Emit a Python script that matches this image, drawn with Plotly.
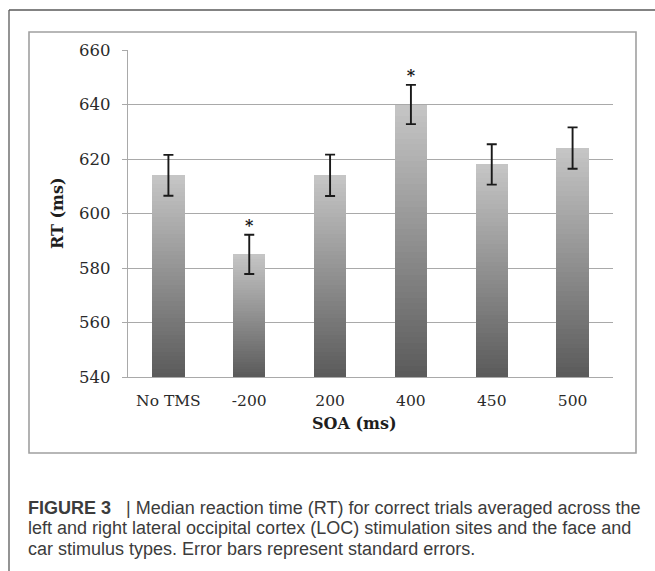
import plotly.graph_objects as go

categories = ["No TMS", "-200", "200", "400", "450", "500"]
rt_values = [614, 585, 614, 640, 618, 624]
rt_se = [7.5, 7.2, 7.6, 7.2, 7.4, 7.6]
significant = [False, True, False, True, False, False]
y_ticks = [540, 560, 580, 600, 620, 640, 660]

caption_lines = [
    "<b>FIGURE 3</b>&nbsp;&nbsp; | Median reaction time (RT) for correct trials averaged across the",
    "left and right lateral occipital cortex (LOC) stimulation sites and the face and",
    "car stimulus types. Error bars represent standard errors.",
]

W, H = 655, 571
L, R, T, B = 128, 42, 50, 194
PW, PH = W - L - R, H - T - B
Y0 = y_ticks[0]

def px(xp):
    return (xp - L) / PW

def py(yp):
    return (H - B - yp) / PH

fig = go.Figure()

# gradient bars built from stacked segments (dark bottom -> light top)
N = 48
dark = (90, 90, 90)
light = (198, 198, 198)
for i in range(N):
    f = (i + 0.5) / N
    c = tuple(int(round(dark[k] + (light[k] - dark[k]) * f)) for k in range(3))
    heights = [(v - Y0) / N for v in rt_values]
    bases = [Y0 + h * i for h in heights]
    ys = [h * (1.0 if i == N - 1 else 1.15) for h in heights]
    fig.add_trace(go.Bar(
        x=categories, y=ys, base=bases, width=0.40,
        marker=dict(color="rgb(%d,%d,%d)" % c, line=dict(width=0)),
        hoverinfo="skip", showlegend=False,
    ))

# error bars
fig.add_trace(go.Scatter(
    x=categories, y=rt_values, mode="markers",
    marker=dict(size=1, color="rgba(0,0,0,0)"),
    error_y=dict(type="data", array=rt_se, visible=True, color="#1a1a1a",
                 thickness=1.9, width=5),
    hoverinfo="skip", showlegend=False,
))

# significance asterisks
sig_x = [c for c, s in zip(categories, significant) if s]
sig_y = [v + e for v, e, s in zip(rt_values, rt_se, significant) if s]
fig.add_trace(go.Scatter(
    x=sig_x, y=sig_y, mode="text", text=["<b>*</b>"] * len(sig_x),
    textposition="top center",
    textfont=dict(family="DejaVu Serif", size=16, color="#1a1a1a"),
    hoverinfo="skip", showlegend=False,
))

grid_col = "#a9a9a9"
fig.update_layout(
    width=W, height=H,
    margin=dict(l=L, r=R, t=T, b=B),
    paper_bgcolor="white", plot_bgcolor="white",
    barmode="overlay", bargap=0,
    showlegend=False, hovermode=False,
    xaxis=dict(
        type="category", range=[-0.5, len(categories) - 0.5],
        showgrid=False, showline=True, linecolor=grid_col, linewidth=1.3,
        ticks="", ticklabelstandoff=9,
        tickfont=dict(family="DejaVu Serif", size=15.5, color="#2a2a2a"),
        fixedrange=True,
    ),
    yaxis=dict(
        range=[y_ticks[0], y_ticks[-1]], tickvals=y_ticks,
        showgrid=True, gridcolor=grid_col, gridwidth=1.3,
        showline=True, linecolor=grid_col, linewidth=1.3,
        ticks="outside", ticklen=5, tickcolor=grid_col, tickwidth=1.3,
        ticklabelstandoff=8, zeroline=False,
        tickfont=dict(family="DejaVu Serif", size=16.5, color="#2a2a2a"),
        fixedrange=True,
    ),
)

# frames
fig.add_shape(type="rect", xref="paper", yref="paper",
              x0=px(29), x1=px(636), y0=py(453), y1=py(32),
              line=dict(color="#a0a0a0", width=1.6), layer="below")
fig.add_shape(type="line", xref="paper", yref="paper",
              x0=px(9), x1=px(660), y0=py(10), y1=py(10),
              line=dict(color="#5a5a5a", width=1.3))
fig.add_shape(type="line", xref="paper", yref="paper",
              x0=px(9), x1=px(9), y0=py(10), y1=py(580),
              line=dict(color="#5a5a5a", width=1.3))

# axis titles
fig.add_annotation(text="<b>RT (ms)</b>", xref="paper", yref="paper",
                   x=px(57), y=py(213), xanchor="center", yanchor="middle",
                   showarrow=False, textangle=-90,
                   font=dict(family="DejaVu Serif", size=16, color="#1e1e1e"))
fig.add_annotation(text="<b>SOA (ms)</b>", xref="paper", yref="paper",
                   x=px(354), y=py(423), xanchor="center", yanchor="middle",
                   showarrow=False,
                   font=dict(family="DejaVu Serif", size=16, color="#1e1e1e"))

# caption
for line, yc in zip(caption_lines, [507.6, 527.6, 548.6]):
    fig.add_annotation(text=line, xref="paper", yref="paper",
                       x=px(26), y=py(yc), xanchor="left", yanchor="middle",
                       showarrow=False, align="left",
                       font=dict(family="Liberation Sans", size=18, color="#3c3c3c"))

fig.write_html("out.html", config={"displayModeBar": False},
               post_script="document.body.style.margin='0';")
